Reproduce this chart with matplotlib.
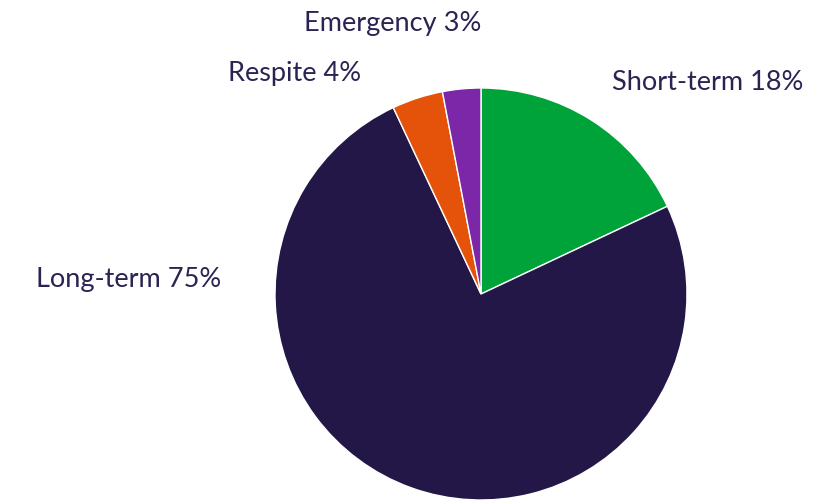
import matplotlib
matplotlib.use("Agg")
import matplotlib.pyplot as plt

# Placement types and their shares (%)
categories = ["Short-term", "Long-term", "Respite", "Emergency"]
shares = [18, 75, 4, 3]
colors = ["#00A33A", "#221747", "#E5530A", "#7B27A8"]

# Label anchor points in figure pixels (x, y from top)
label_pos = {
    "Short-term": (708, 83),
    "Long-term": (129, 279),
    "Respite": (295, 73),
    "Emergency": (393, 24),
}

W, H = 821, 500
fig = plt.figure(figsize=(W / 100, H / 100), dpi=100)
ax = fig.add_axes([0, 0, 1, 1])

ax.pie(
    shares,
    colors=colors,
    startangle=90,
    counterclock=False,
    center=(481, H - 294),
    radius=206,
    wedgeprops=dict(edgecolor="white", linewidth=1.0),
    frame=True,
)
ax.set_xlim(0, W)
ax.set_ylim(0, H)
ax.set_aspect("equal")
ax.axis("off")

text_color = "#2B2452"
for name, val in zip(categories, shares):
    x, y = label_pos[name]
    ax.text(x, H - y, f"{name} {val}%", ha="center", va="center",
            fontsize=19.5, color=text_color, family="Lato")

fig.savefig("out.png", dpi=100)
